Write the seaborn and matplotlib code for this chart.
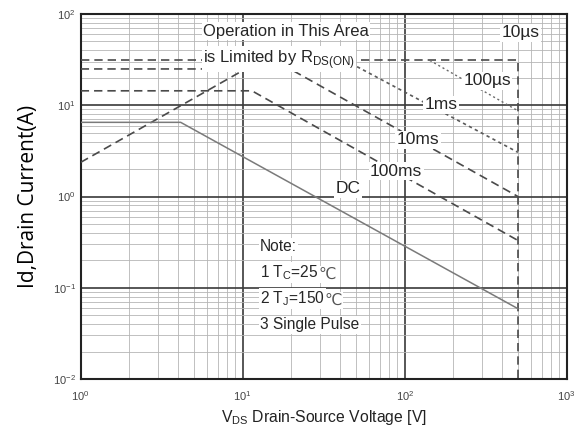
import numpy as np
import pandas as pd
import matplotlib
matplotlib.use("Agg")
import matplotlib.pyplot as plt
import seaborn as sns
from matplotlib.ticker import LogLocator, NullFormatter

# ---- data ----
rds_v = [1, 10]
rds_i = [2.37, 24.0]
us10_v = [1, 500, 500]
us10_i = [31.0, 31.0, 0.01]
us100_v = [143, 500]
us100_i = [31.0, 8.7]
ms1_v = [43, 500]
ms1_i = [31.0, 3.05]
ms10_v = [1, 19.6, 500]
ms10_i = [25.0, 25.0, 1.0]
ms100_v = [1, 11.4, 500]
ms100_i = [14.4, 14.4, 0.33]
dc_v = [1, 4.14, 500]
dc_i = [6.5, 6.5, 0.059]

curve_labels = ["10µs", "100µs", "1ms", "10ms", "100ms", "DC"]
note_lines = ["Note:", "1 T$_\\mathregular{C}$=25", "2 T$_\\mathregular{J}$=150", "3 Single Pulse"]
note_suffix = ["", "℃", "℃", ""]

sns.set_theme(style="white")
plt.rcParams["font.family"] = ["Liberation Sans", "DejaVu Sans"]
plt.rcParams["mathtext.fontset"] = "custom"
plt.rcParams["mathtext.rm"] = "Liberation Sans"

fig = plt.figure(figsize=(5.82, 4.34), dpi=100)
ax = fig.add_axes([0.1387, 0.1267, 0.835, 0.841])
ax.set_xscale("log")
ax.set_yscale("log")
ax.set_xlim(1, 1000)
ax.set_ylim(0.01, 100)

# grid
ax.xaxis.set_minor_locator(LogLocator(base=10, subs=np.arange(2, 10)))
ax.yaxis.set_minor_locator(LogLocator(base=10, subs=np.arange(2, 10)))
ax.xaxis.set_minor_formatter(NullFormatter())
ax.yaxis.set_minor_formatter(NullFormatter())
ax.grid(True, which="major", color="#3a3a3a", linewidth=1.2, zorder=0)
ax.grid(True, which="minor", color="#b5b5b5", linewidth=0.6, zorder=0)
ax.set_axisbelow(True)

def draw(v, i, ls, color, lw=1.2, dashes=None):
    df = pd.DataFrame({"V": v, "I": i})
    sns.lineplot(data=df, x="V", y="I", ax=ax, sort=False, color=color,
                 linewidth=lw, linestyle=ls, estimator=None)
    l = ax.lines[-1]
    if dashes is not None:
        l.set_dashes(dashes)
    l.set_zorder(3)

draw(rds_v, rds_i, "--", "#4a4a4a", 1.2, (5, 3))
draw(us10_v, us10_i, "--", "#4a4a4a", 1.2, (5, 3))
draw(us100_v, us100_i, ":", "#6a6a6a", 1.0, (1.5, 2))
draw(ms1_v, ms1_i, ":", "#5a5a5a", 1.2, (2, 2))
draw(ms10_v, ms10_i, "--", "#4a4a4a", 1.2, (5, 3))
draw(ms100_v, ms100_i, "--", "#4a4a4a", 1.2, (5, 3))
draw(dc_v, dc_i, "-", "#7a7a7a", 1.1)

box = dict(facecolor="white", edgecolor="none", pad=1.0)
fs = 12
ax.text(5.7, 65, "Operation in This Area", fontsize=fs, va="center", ha="left", bbox=box, zorder=5)
ax.text(5.7, 32, "is Limited by R$_\\mathregular{DS(ON)}$", fontsize=fs, va="center", ha="left", bbox=box, zorder=5)
label_pos = [(516, 62), (322, 18.5), (167, 10.1), (121, 4.2), (88.5, 1.89), (44.7, 1.22)]
for lab, (x, y) in zip(curve_labels, label_pos):
    ax.text(x, y, lab, fontsize=12.5, va="center", ha="center", bbox=box, zorder=5)

note_y = [0.2506, 0.130, 0.0677, 0.0352]
for t, suf, y in zip(note_lines, note_suffix, note_y):
    txt = ax.text(12.8, y, t, fontsize=11.2, va="baseline", ha="left", bbox=box, zorder=5)
    if suf:
        ax.annotate(suf, xy=(1.0, 0.0), xycoords=txt, va="bottom", ha="left",
                    fontsize=11.2, family="DejaVu Sans", color="#555555",
                    bbox=dict(facecolor="white", edgecolor="none", pad=0.5), zorder=5)

# axes styling
for s in ax.spines.values():
    s.set_color("#222222")
    s.set_linewidth(1.5)
ax.tick_params(which="both", direction="in", colors="#444444", labelsize=8)
ax.tick_params(which="major", length=4)
ax.tick_params(which="minor", length=3)
ax.tick_params(axis="x", pad=7)
ax.set_xticks([1, 10, 100, 1000])
ax.set_xticklabels(["$10^{0}$", "$10^{1}$", "$10^{2}$", "$10^{3}$"], color="#444444")
ax.set_yticks([0.01, 0.1, 1, 10, 100])
ax.set_yticklabels(["$10^{-2}$", "$10^{-1}$", "$10^{0}$", "$10^{1}$", "$10^{2}$"], color="#444444")

ax.set_xlabel("V$_\\mathregular{DS}$ Drain-Source Voltage [V]", fontsize=11.3, color="#222222", labelpad=4)
ax.set_ylabel("Id,Drain Current(A)", fontsize=15, family="Open Sans", color="black", labelpad=10)

fig.savefig("out.png", dpi=100)
